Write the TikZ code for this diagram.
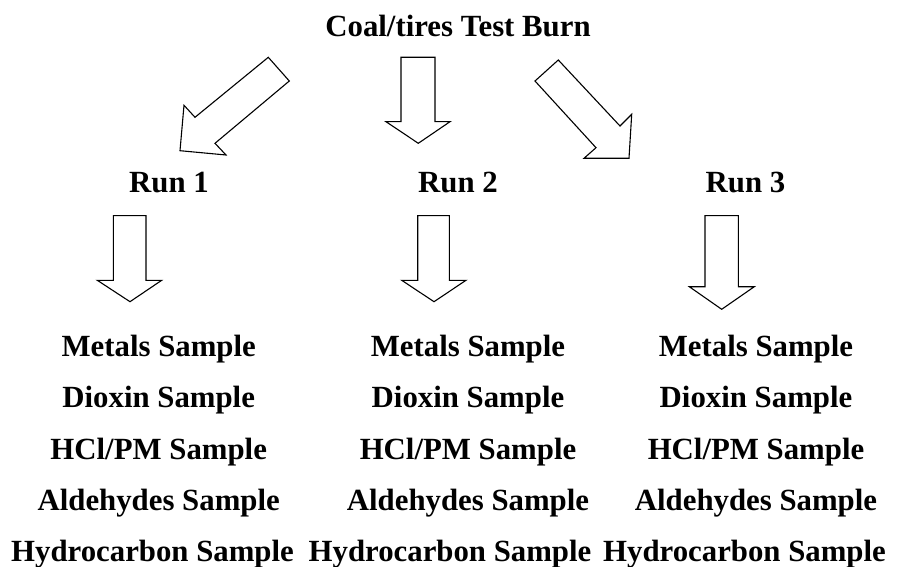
\documentclass[tikz,border=0pt]{standalone}
\usepackage{fontspec}
\setmainfont{Liberation Serif}
\tikzset{
  boldtext/.style={font=\bfseries\fontsize{30.8}{36}\selectfont, inner sep=0pt, anchor=base},
  blockarrow/.style={draw, line width=1.1pt, fill=white, line join=miter}
}
\begin{document}
\begin{tikzpicture}[x=1pt, y=-1pt]
\useasboundingbox (0,0) rectangle (906,567); % page
\node[boldtext] (burn) at (458,36.7) {Coal/tires Test Burn}; % title
\draw[blockarrow] (268.3,57.3) -- (195,117.3) -- (184,105.3) -- (180,150.7) -- (226,155) -- (215,143.3) -- (289.3,81) -- cycle; % arrow to run 1
\draw[blockarrow] (401,57.3) -- (401,121.7) -- (386,121.7) -- (418.3,143.3) -- (450,121.7) -- (435,121.7) -- (435,57.3) -- cycle; % arrow to run 2
\draw[blockarrow] (558.3,60) -- (620,126) -- (631.7,114.3) -- (629,158.3) -- (584,158.3) -- (596,147.7) -- (535,81) -- cycle; % arrow to run 3
\node[boldtext] (run1) at (169,193) {Run 1};
\node[boldtext] (run2) at (458,193) {Run 2};
\node[boldtext] (run3) at (745.5,193) {Run 3};
\draw[blockarrow] (113.3,215.7) -- (113.3,280.3) -- (97.3,280.3) -- (130,301.7) -- (161.7,280.3) -- (146,280.3) -- (146,215.7) -- cycle; % run 1 down
\draw[blockarrow] (417.7,215.7) -- (417.7,280.3) -- (401.7,280.3) -- (434,301.7) -- (466,280.3) -- (449.3,280.3) -- (449.3,215.7) -- cycle; % run 2 down
\draw[blockarrow] (705,215.7) -- (705,286.7) -- (689.3,286.7) -- (721.7,309.3) -- (754.3,286.7) -- (738.3,286.7) -- (738.3,215.7) -- cycle; % run 3 down
% samples, run 1
\node[boldtext] (metals1) at (158.7,356) {Metals Sample};
\node[boldtext] (dioxin1) at (158.7,407.5) {Dioxin Sample};
\node[boldtext] (hcl1) at (158.7,459) {HCl/PM Sample};
\node[boldtext] (ald1) at (158.7,510.5) {Aldehydes Sample};
\node[boldtext] (hydro1) at (152.5,561) {Hydrocarbon Sample};
% samples, run 2
\node[boldtext] (metals2) at (468,356) {Metals Sample};
\node[boldtext] (dioxin2) at (468,407.5) {Dioxin Sample};
\node[boldtext] (hcl2) at (468,459) {HCl/PM Sample};
\node[boldtext] (ald2) at (468,510.5) {Aldehydes Sample};
\node[boldtext] (hydro2) at (450,561) {Hydrocarbon Sample};
% samples, run 3
\node[boldtext] (metals3) at (756,356) {Metals Sample};
\node[boldtext] (dioxin3) at (756,407.5) {Dioxin Sample};
\node[boldtext] (hcl3) at (756,459) {HCl/PM Sample};
\node[boldtext] (ald3) at (756,510.5) {Aldehydes Sample};
\node[boldtext] (hydro3) at (744.5,561) {Hydrocarbon Sample};
\end{tikzpicture}
\end{document}
